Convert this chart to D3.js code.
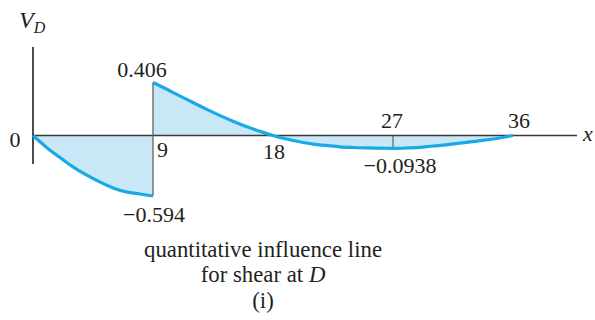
<!DOCTYPE html>
<html>
<head>
<meta charset="utf-8">
<script src="https://cdn.jsdelivr.net/npm/d3@7"></script>
<style>
  html, body { margin: 0; padding: 0; background: #fff; }
  svg { display: block; }
  text { font-family: "Liberation Serif", "DejaVu Serif", serif; fill: #231f20; }
</style>
</head>
<body>
<svg id="chart" width="595" height="320"></svg>
<script>
// Influence line for shear at D: span positions (ft) and ordinates
const segLeftX  = [0, 1, 2, 3, 4, 5, 6, 7, 8, 9];
const segLeftV  = [0, -0.0857, -0.188, -0.288, -0.372, -0.446, -0.509, -0.551, -0.573, -0.594];

const segRightX = [9, 10, 11, 12, 13, 14, 15, 16, 17, 18,
                   19, 20, 21, 22, 23, 24, 25, 26, 27,
                   28, 29, 30, 31, 32, 33, 34, 35, 36];
const segRightV = [0.406, 0.356, 0.304, 0.253, 0.202, 0.154, 0.109, 0.068, 0.033, 0,
                   -0.026, -0.046, -0.063, -0.073, -0.083, -0.088, -0.091, -0.093, -0.0938,
                   -0.0916, -0.087, -0.077, -0.069, -0.056, -0.045, -0.032, -0.018, 0];

// Key ordinates (labelled on the diagram)
const keyValues = [-0.594, -0.0938, 0, 0.406];
const xTicks = [9, 18, 27, 36];

const svg = d3.select("#chart");

const x = d3.scaleLinear().domain([0, 36]).range([33, 513]);
// Diagram is not drawn to a single vertical scale: piecewise mapping through the key ordinates
const y = d3.scaleLinear().domain(keyValues).range([196, 148.3, 135.5, 82.5]);

const left = segLeftX.map((d, i) => ({ x: d, v: segLeftV[i] }));
const right = segRightX.map((d, i) => ({ x: d, v: segRightV[i] }));

const area = d3.area()
  .x(d => x(d.x)).y0(y(0)).y1(d => y(d.v))
  .curve(d3.curveMonotoneX);
const line = d3.line()
  .x(d => x(d.x)).y(d => y(d.v))
  .curve(d3.curveMonotoneX);

const fill = "#c8e8f7";
const blue = "#19a9e6";

svg.append("path").datum(left).attr("d", area).attr("fill", fill);
svg.append("path").datum(right).attr("d", area).attr("fill", fill);

// x axis
svg.append("line")
  .attr("x1", x(0)).attr("x2", 577)
  .attr("y1", y(0)).attr("y2", y(0))
  .attr("stroke", "#3a3a3a").attr("stroke-width", 1.3);

// vertical axis
svg.append("line")
  .attr("x1", x(0)).attr("x2", x(0))
  .attr("y1", 47).attr("y2", 164)
  .attr("stroke", "#231f20").attr("stroke-width", 1.6);

// jump at D (x = 9)
svg.append("line")
  .attr("x1", x(9)).attr("x2", x(9))
  .attr("y1", y(0.406)).attr("y2", y(-0.594))
  .attr("stroke", "#555").attr("stroke-width", 1.2);

// ordinate marker at x = 27
svg.append("line")
  .attr("x1", x(27)).attr("x2", x(27))
  .attr("y1", y(0)).attr("y2", y(-0.0938))
  .attr("stroke", "#555").attr("stroke-width", 1.1);

svg.append("path").datum(left).attr("d", line)
  .attr("fill", "none").attr("stroke", blue).attr("stroke-width", 3.2);
svg.append("path").datum(right).attr("d", line)
  .attr("fill", "none").attr("stroke", blue).attr("stroke-width", 3.2);

// labels
const fs = 22;
function label(txt, px, py, anchor, size) {
  return svg.append("text").attr("x", px).attr("y", py)
    .attr("text-anchor", anchor || "middle")
    .attr("font-size", size || fs).text(txt);
}

// V_D axis title
const vt = svg.append("text").attr("x", 19).attr("y", 28).attr("font-size", 24);
vt.append("tspan").attr("font-style", "italic").text("V");
vt.append("tspan").attr("font-style", "italic").attr("font-size", 16).attr("dy", 5).text("D");

label("0", 15, 147);
label("x", 583, 141, "start").attr("font-style", "italic");

label(d3.format(".3f")(keyValues[3]), x(9) - 11, 77);
label("\u2212" + d3.format(".3f")(-keyValues[0]), x(9) + 1, 222);
label("\u2212" + String(-keyValues[1]), 400, 173);

label(String(xTicks[0]), x(xTicks[0]) + 4, 157, "start");
label(String(xTicks[1]), x(xTicks[1]) + 1, 159);
label(String(xTicks[2]), x(xTicks[2]) - 1, 128);
label(String(xTicks[3]), x(xTicks[3]) + 6, 128);

// caption
const capSize = 22.8;
label("quantitative influence line", 263, 257, "middle", capSize);
const c2 = svg.append("text").attr("x", 263).attr("y", 282)
  .attr("text-anchor", "middle").attr("font-size", capSize);
c2.append("tspan").text("for shear at ");
c2.append("tspan").attr("font-style", "italic").text("D");
label("(i)", 263, 308, "middle", capSize);
</script>
</body>
</html>
